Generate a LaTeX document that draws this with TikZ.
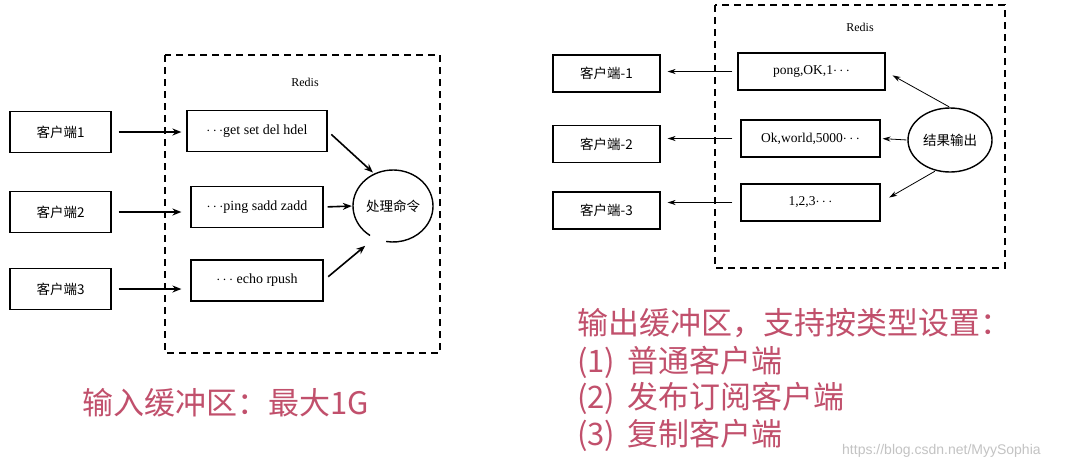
\documentclass[tikz,border=0pt]{standalone}
\usepackage{fontspec}
\setmainfont{Liberation Serif}
\newfontfamily\cjk{Noto Sans CJK SC}
\newfontfamily\wmfont{Liberation Sans}
\usetikzlibrary{arrows.meta,shapes.geometric}
\definecolor{pinktext}{RGB}{193,80,108}
\definecolor{wmgray}{RGB}{195,195,195}
\tikzset{
  cbox/.style={draw, line width=1.2pt, minimum width=101pt, minimum height=41pt, inner sep=0pt, font=\cjk\fontsize{13.5}{15}\selectfont},
  bbox/.style={draw, line width=1.2pt, minimum height=41pt, inner sep=0pt, font=\fontsize{14}{15}\selectfont},
  rcbox/.style={draw, line width=1.1pt, minimum width=107pt, minimum height=37pt, inner sep=0pt, font=\cjk\fontsize{13.5}{15}\selectfont},
  rbbox/.style={draw, line width=1.1pt, minimum height=37pt, inner sep=0pt, font=\fontsize{13.5}{15}\selectfont},
  redisbox/.style={draw, line width=1.4pt, dash pattern=on 7pt off 5pt},
  inarrow/.style={-{Stealth[length=9pt,width=7pt]}, line width=1.6pt},
  outarrow/.style={-{Stealth[length=8pt,width=5pt]}, line width=0.8pt},
  redislabel/.style={font=\fontsize{12}{14}\selectfont},
  pinkline/.style={anchor=west, text=pinktext, font=\cjk\fontsize{31}{34}\selectfont, inner sep=0pt},
}
\begin{document}
\begin{tikzpicture}[x=1pt,y=-1pt]
\useasboundingbox (0,0) rectangle (1075,467);
\fill[white] (0,0) rectangle (1075,467);

% ---------- left: input buffer ----------
\draw[redisbox] (165,55) rectangle (440,353);
\node[redislabel] (redisL) at (305,82) {Redis};

\node[cbox] (c1) at (60.5,132) {客户端1};
\node[cbox] (c2) at (60.5,212) {客户端2};
\node[cbox] (c3) at (60.5,289) {客户端3};

\node[bbox, minimum width=140pt] (b1) at (257,131) {$\cdots$get set del hdel};
\node[bbox, minimum width=132pt] (b2) at (257,207) {$\cdots$ping sadd zadd};
\node[bbox, minimum width=132pt] (b3) at (257,280.5) {$\cdots$ echo rpush};

\node[ellipse, minimum width=80pt, minimum height=72pt, inner sep=0pt, font=\cjk\fontsize{13.5}{15}\selectfont] (proc) at (393,206) {处理命令};
\draw[line width=1.4pt] ([shift={(125:40pt and -36pt)}]proc.center) arc[start angle=125, end angle=460, x radius=40pt, y radius=-36pt];

\draw[inarrow, shorten <=7pt, shorten >=5pt] (c1.east) -- (c1.east -| b1.west);
\draw[inarrow, shorten <=7pt, shorten >=9pt] (c2.east) -- (c2.east -| b2.west);
\draw[inarrow, shorten <=7pt, shorten >=9pt] (c3.east) -- (c3.east -| b3.west);

\draw[inarrow, shorten <=5pt, shorten >=2pt] (b1.east) -- (proc.120);
\draw[inarrow, shorten <=4pt, shorten >=1pt] (b2.east) -- (proc.west);
\draw[inarrow, shorten <=6pt, shorten >=12pt] (b3.east) -- (proc.240);

\node[pinkline] (inText) at (82,403) {输入缓冲区：最大1G};

% ---------- right: output buffer ----------
\draw[redisbox] (715,5) rectangle (1005,268);
\node[redislabel] (redisR) at (860,27) {Redis};

\node[rcbox] (k1) at (606.5,73.5) {客户端-1};
\node[rcbox] (k2) at (606.5,144) {客户端-2};
\node[rcbox] (k3) at (606.5,210.5) {客户端-3};

\node[rbbox, minimum width=147pt] (r1) at (811.5,71.5) {pong,OK,1$\cdots$};
\node[rbbox, minimum width=139pt] (r2) at (810.5,138.5) {Ok,world,5000$\cdots$};
\node[rbbox, minimum width=139pt] (r3) at (810.5,202.5) {1,2,3$\cdots$};

\node[ellipse, draw, line width=1.4pt, minimum width=84pt, minimum height=64pt, inner sep=0pt, font=\cjk\fontsize{13.5}{15}\selectfont] (outp) at (950,140) {结果输出};

\draw[outarrow, shorten <=5pt, shorten >=7pt] (r1.west) -- (r1.west -| k1.east);
\draw[outarrow, shorten <=8pt, shorten >=7pt] (r2.west) -- (r2.west -| k2.east);
\draw[outarrow, shorten <=8pt, shorten >=7pt] (r3.west) -- (r3.west -| k3.east);

\draw[outarrow, shorten <=1pt, shorten >=8pt] (outp.north) -- (r1.east);
\draw[outarrow, shorten <=1pt, shorten >=2pt] (outp.west) -- (r2.east);
\draw[outarrow, shorten <=1pt, shorten >=10pt] (outp.245) -- (r3.east);

\node[pinkline] (outText1) at (577,323) {输出缓冲区，支持按类型设置：};
\node[pinkline] (outText2) at (577,362) {(1)\hspace{0.4em}普通客户端};
\node[pinkline] (outText3) at (577,398) {(2)\hspace{0.4em}发布订阅客户端};
\node[pinkline] (outText4) at (577,435) {(3)\hspace{0.4em}复制客户端};

\node[anchor=west, inner sep=0pt, text=wmgray, font=\wmfont\fontsize{14}{16}\selectfont] (wm) at (842,451) {https://blog.csdn.net/MyySophia};
\end{tikzpicture}
\end{document}
